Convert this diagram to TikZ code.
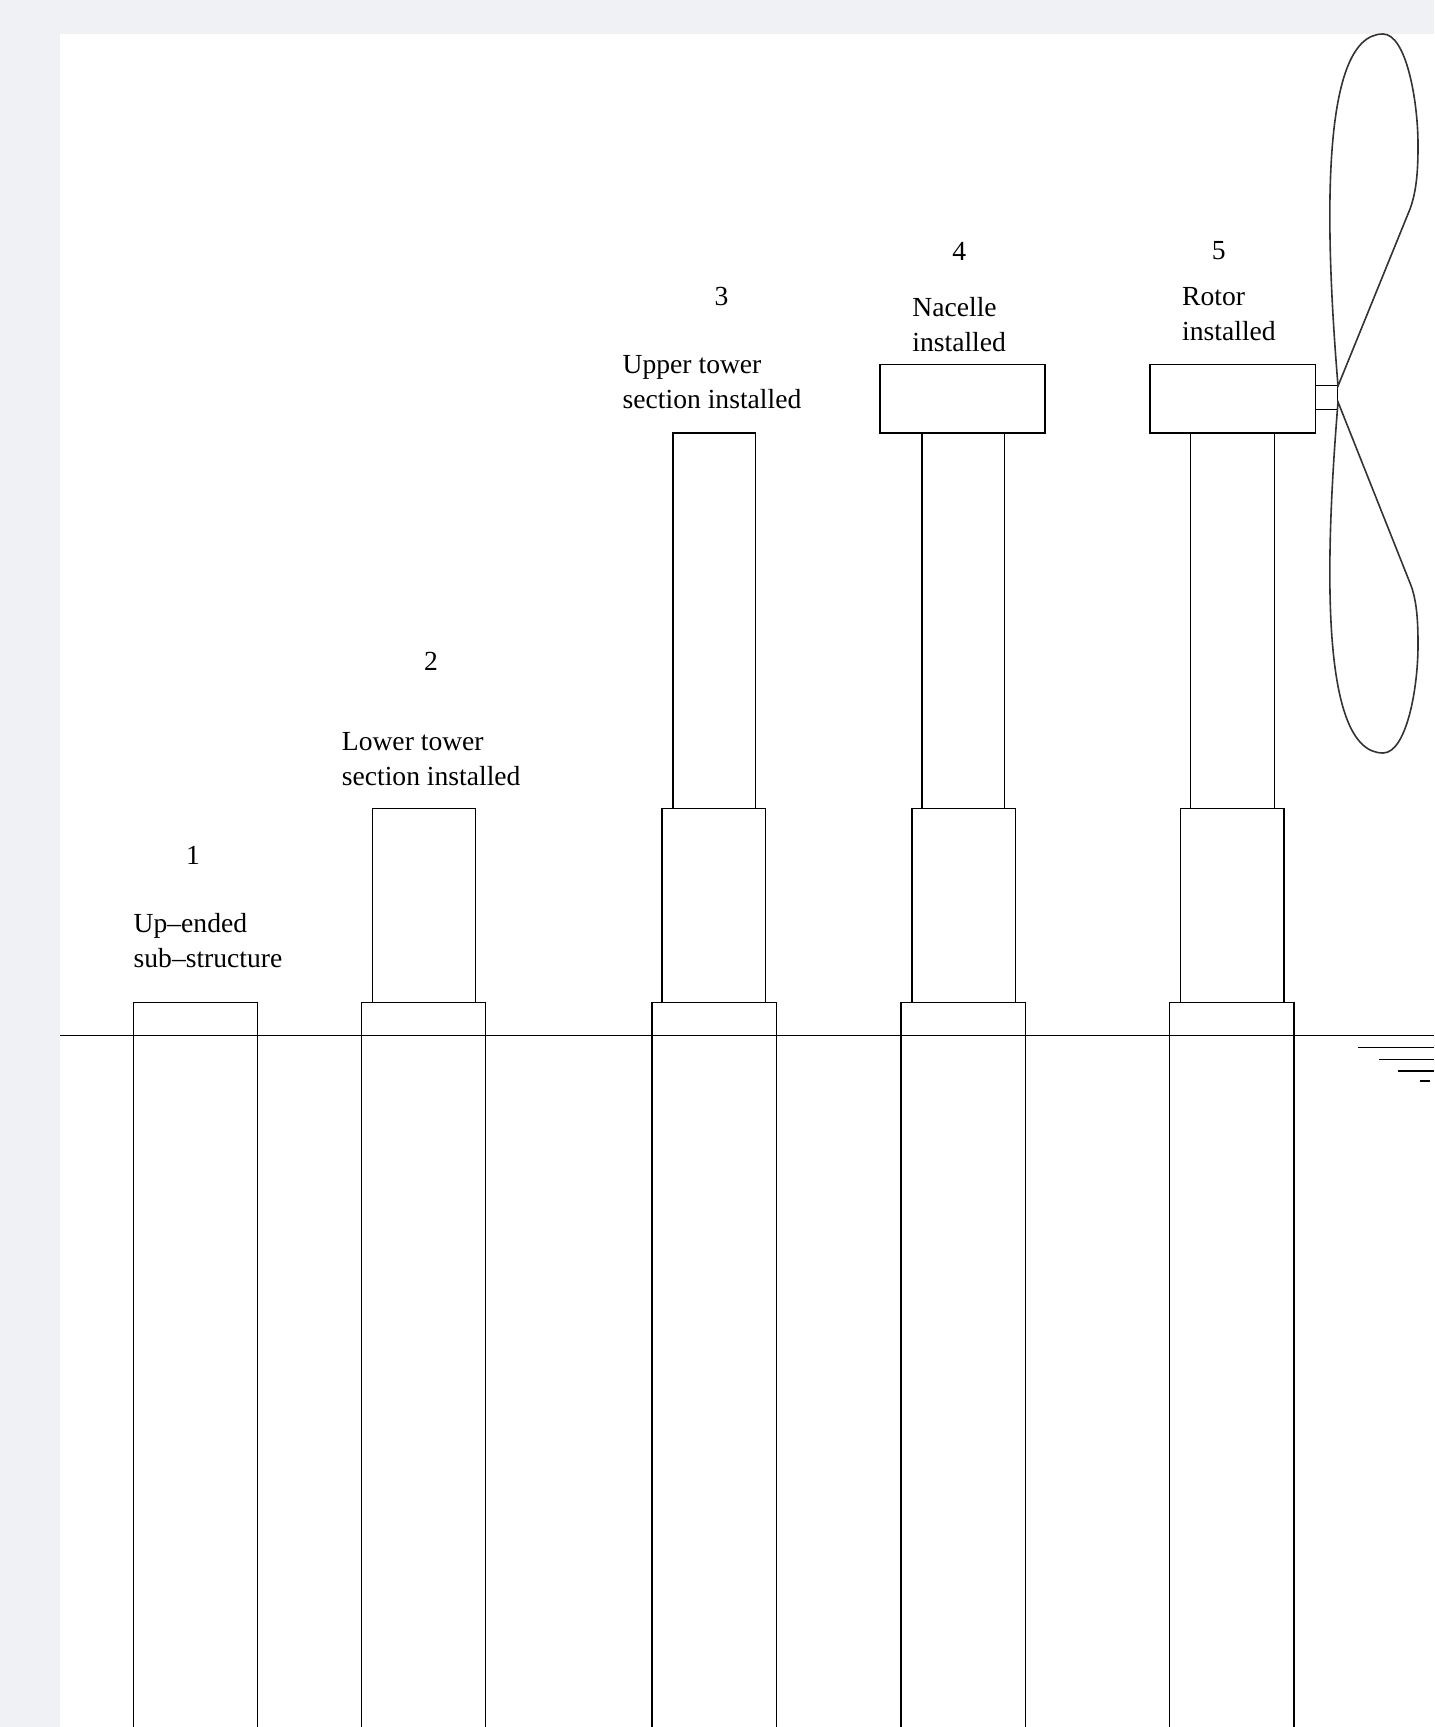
\documentclass[tikz,border=0pt]{standalone}
\usepackage{fontspec}
\setmainfont{Liberation Serif}
\definecolor{bggray}{RGB}{240,241,245}
\begin{document}
\begin{tikzpicture}[x=0.5pt,y=-0.5pt,
  part/.style={draw=black, line width=0.75pt},
  blade/.style={draw=black!80, line width=0.8pt},
  lbl/.style={font=\fontsize{13.8}{17.5}\selectfont, inner sep=0pt, align=left, anchor=west},
  num/.style={font=\fontsize{13.8}{17.5}\selectfont, inner sep=0pt}]
\fill[bggray] (0,0) rectangle (1434,1727);
\fill[white] (60,34) rectangle (1434,1727);
\useasboundingbox (0,0) rectangle (1434,1727);
% water line and symbol
\draw[part] (60,1035.5) -- (1434,1035.5);
\draw[part] (1358,1047.5) -- (1434,1047.5);
\draw[part] (1379,1059.5) -- (1434,1059.5);
\draw[part] (1398,1071) -- (1434,1071);
\draw[part] (1420,1081) -- (1430,1081);
% tower 1
\draw[part] (133.3,1727) |- (257.7,1002.5) -- (257.7,1727);
% tower 2
\draw[part] (361.3,1727) |- (485.7,1002.5) -- (485.7,1727);
\draw[part] (372.3,808.5) rectangle (475.7,1002.5);
% tower 3
\draw[part] (652.0,1727) |- (776.5,1002.5) -- (776.5,1727);
\draw[part] (661.9,808.5) rectangle (765.5,1002.5);
\draw[part] (672.9,432.8) rectangle (755.5,808.5);
% tower 4
\draw[part] (900.9,1727) |- (1025.4,1002.5) -- (1025.4,1727);
\draw[part] (911.9,808.5) rectangle (1015.5,1002.5);
\draw[part] (921.9,432.8) rectangle (1004.5,808.5);
\draw[part] (880.0,364.5) rectangle (1045.2,432.8);
% tower 5
\draw[part] (1169.7,1727) |- (1294.1,1002.5) -- (1294.1,1727);
\draw[part] (1180.7,808.5) rectangle (1284.2,1002.5);
\draw[part] (1190.6,432.8) rectangle (1274.3,808.5);
\draw[part] (1149.8,364.5) rectangle (1315.5,432.8);
\draw[part] (1315.5,385.3) rectangle (1337.7,409.3);
% rotor blades
\draw[blade] (1338,386) .. controls (1326,240) and (1318,34) .. (1383,34)
  .. controls (1406,34) and (1418,100) .. (1418,145)
  .. controls (1418,168) and (1417,190) .. (1410,209) -- cycle;
\draw[blade] (1338,402) .. controls (1326,550) and (1318,753) .. (1383,753)
  .. controls (1406,753) and (1418,690) .. (1418,645)
  .. controls (1418,622) and (1417,600) .. (1410,583) -- cycle;
% labels
\node[num] (n1) at (193,855) {1};
\node[lbl] (l1) at (133.3,940.5) {Up--ended\\sub--structure};
\node[num] (n2) at (431,661) {2};
\node[lbl] (l2) at (341.5,759) {Lower tower\\section installed};
\node[num] (n3) at (721.4,296.3) {3};
\node[lbl] (l3) at (622.3,382.2) {Upper tower\\section installed};
\node[num] (n4) at (959.3,251.1) {4};
\node[lbl] (l4) at (912,324.9) {Nacelle\\installed};
\node[num] (n5) at (1218.7,251.1) {5};
\node[lbl] (l5) at (1181.8,313.9) {Rotor\\installed};
\end{tikzpicture}
\end{document}
